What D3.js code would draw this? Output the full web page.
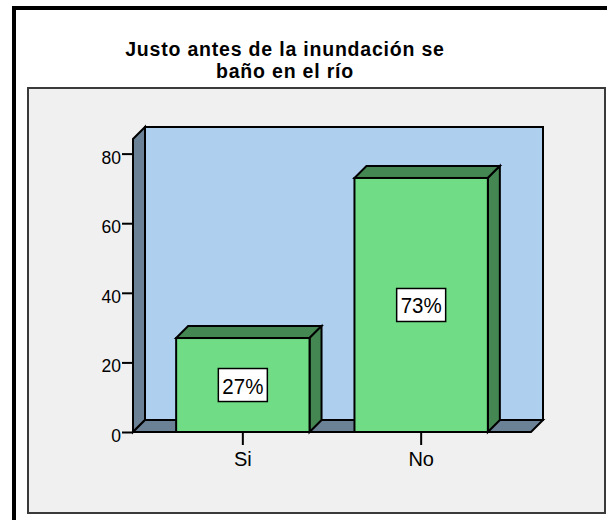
<!DOCTYPE html>
<html>
<head>
<meta charset="utf-8">
<script src="https://cdn.jsdelivr.net/npm/d3@7"></script>
<style>
  html, body { margin: 0; padding: 0; background: #ffffff; }
  svg { display: block; }
  text { font-family: Arial, "Liberation Sans", sans-serif; fill: #000; }
</style>
</head>
<body>
<svg id="chart" width="607" height="520"></svg>
<script>
const titleLines = ["Justo antes de la inundación se", "baño en el río"];
const categories = ["Si", "No"];
const values = [27, 73];
const valueLabels = ["27%", "73%"];
const yTicks = [0, 20, 40, 60, 80];
const yMax = 84.2;

(function () {
const svg = d3.select("#chart");

// outer frame
svg.append("rect").attr("x", 14).attr("y", 8).attr("width", 620).attr("height", 540)
  .attr("fill", "#ffffff").attr("stroke", "#000").attr("stroke-width", 4);

// title
const titleBase = [55.5, 78];
titleLines.forEach((t, i) => {
  svg.append("text").attr("text-anchor", "middle")
    .attr("x", 285).attr("y", titleBase[i])
    .attr("font-weight", "bold").attr("font-size", 19.5).attr("letter-spacing", 0.8)
    .text(t);
});

// inner panel
svg.append("rect").attr("x", 28).attr("y", 88).attr("width", 577).attr("height", 425)
  .attr("fill", "#f0f0f0").attr("stroke", "#3a3a3a").attr("stroke-width", 2);

const x0 = 133, x1 = 531, d = 12;
const y = d3.scaleLinear().domain([0, yMax]).range([432, 139]);
const x = d3.scaleBand().domain(categories).range([x0, x1])
  .paddingInner(0.252).paddingOuter(0.242);

const yBase = y(0), yTop = y(yMax);
const g = svg.append("g").attr("stroke", "#000").attr("stroke-width", 2).attr("stroke-linejoin", "miter");

// back wall
g.append("rect").attr("x", x0 + d).attr("y", yTop - d).attr("width", x1 - x0).attr("height", yBase - yTop)
  .attr("fill", "#aed0ee");
// side wall
g.append("polygon").attr("points", [[x0, yBase], [x0, yTop], [x0 + d, yTop - d], [x0 + d, yBase - d]].join(" "))
  .attr("fill", "#6a8196");
// floor
g.append("polygon").attr("points", [[x0, yBase], [x1, yBase], [x1 + d, yBase - d], [x0 + d, yBase - d]].join(" "))
  .attr("fill", "#6a8196");

// bars
categories.forEach((c, i) => {
  const bx0 = x(c), bx1 = x(c) + x.bandwidth(), vy = y(values[i]);
  g.append("polygon").attr("points", [[bx0, vy], [bx0 + d, vy - d], [bx1 + d, vy - d], [bx1, vy]].join(" "))
    .attr("fill", "#448752");
  g.append("polygon").attr("points", [[bx1, vy], [bx1 + d, vy - d], [bx1 + d, yBase - d], [bx1, yBase]].join(" "))
    .attr("fill", "#448752");
  g.append("rect").attr("x", bx0).attr("y", vy).attr("width", bx1 - bx0).attr("height", yBase - vy)
    .attr("fill", "#70dd86");
});

// value labels
categories.forEach((c, i) => {
  const cx = x(c) + x.bandwidth() / 2;
  const cy = (y(values[i]) + yBase) / 2;
  svg.append("rect").attr("x", cx - 24.5).attr("y", cy - 16.5).attr("width", 49).attr("height", 33)
    .attr("fill", "#fff").attr("stroke", "#000").attr("stroke-width", 1.5);
  svg.append("text").attr("text-anchor", "middle")
    .attr("transform", `translate(${cx},${cy + 8.5}) scale(1,1.1)`)
    .attr("font-size", 20.5).text(valueLabels[i]);
});

// y axis
const yAxis = svg.append("g").attr("transform", `translate(${x0},0)`)
  .call(d3.axisLeft(y).tickValues(yTicks).tickSize(11).tickPadding(1).tickFormat(d3.format("d")));
yAxis.select(".domain").remove();
yAxis.selectAll(".tick line").attr("stroke", "#000").attr("stroke-width", 2);
yAxis.selectAll(".tick text").attr("font-size", 17.5).attr("font-family", "Arial, 'Liberation Sans', sans-serif")
  .attr("dy", null).attr("y", 9.5).attr("fill", "#000");

// x axis
const xAxis = svg.append("g").attr("transform", `translate(0,${yBase})`)
  .call(d3.axisBottom(x).tickSize(13).tickPadding(0));
xAxis.select(".domain").remove();
xAxis.selectAll(".tick line").attr("stroke", "#000").attr("stroke-width", 2);
xAxis.selectAll(".tick text").attr("font-size", 20).attr("font-family", "Arial, 'Liberation Sans', sans-serif")
  .attr("dy", null).attr("y", 33.5).attr("fill", "#000");
})();
</script>
</body>
</html>
